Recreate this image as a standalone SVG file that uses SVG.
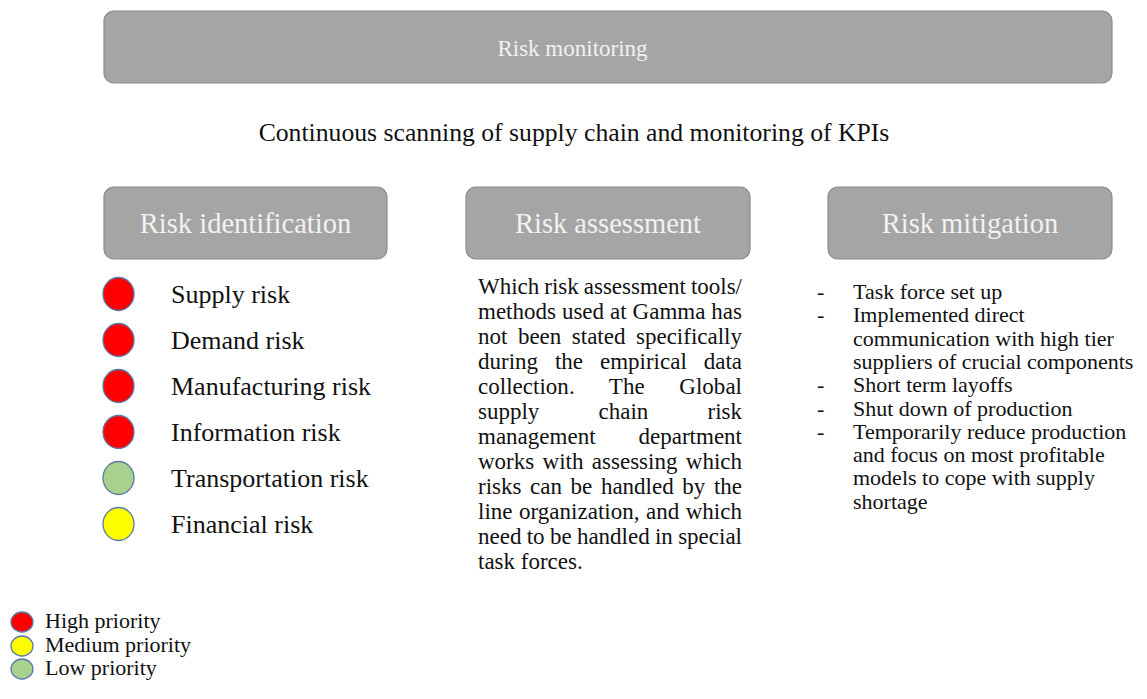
<svg xmlns="http://www.w3.org/2000/svg" width="1147" height="699" viewBox="0 0 1147 699">
  <style>
    .box { fill: #a5a5a5; stroke: #8a8a8a; stroke-width: 1.2; }
    .hdr { font-family: "Liberation Serif", "Times New Roman", serif; fill: #f2f2f2; text-anchor: middle; }
    .body { font-family: "Liberation Serif", "Times New Roman", serif; fill: #111111; }
    .dot { stroke: #5a7aa6; stroke-width: 1.3; }
    .high { fill: #ff0000; }
    .med { fill: #ffff00; }
    .low { fill: #a9d18e; }
  </style>

  <!-- Top banner -->
  <g id="risk-monitoring">
    <rect class="box" x="104" y="11" width="1008" height="72" rx="10"/>
    <text class="hdr" x="572.5" y="56" font-size="23">Risk monitoring</text>
  </g>

  <g id="subtitle">
    <text class="body" x="574" y="141" font-size="25.7" text-anchor="middle">Continuous scanning of supply chain and monitoring of KPIs</text>
  </g>

  <!-- Column 1: identification -->
  <g id="risk-identification">
    <rect class="box" x="104" y="187" width="283" height="72" rx="10"/>
    <text class="hdr" x="245.5" y="233" font-size="28.5">Risk identification</text>
    <g font-size="26" class="body">
      <ellipse class="dot high" cx="118.5" cy="294" rx="15.5" ry="16.5"/>
      <text x="171" y="303">Supply risk</text>
      <ellipse class="dot high" cx="118.5" cy="340" rx="15.5" ry="16.5"/>
      <text x="171" y="349">Demand risk</text>
      <ellipse class="dot high" cx="118.5" cy="386" rx="15.5" ry="16.5"/>
      <text x="171" y="395">Manufacturing risk</text>
      <ellipse class="dot high" cx="118.5" cy="432" rx="15.5" ry="16.5"/>
      <text x="171" y="441">Information risk</text>
      <ellipse class="dot low" cx="118.5" cy="478" rx="15.5" ry="16.5"/>
      <text x="171" y="487">Transportation risk</text>
      <ellipse class="dot med" cx="118.5" cy="524" rx="15.5" ry="16.5"/>
      <text x="171" y="533">Financial risk</text>
    </g>
  </g>

  <!-- Column 2: assessment (justified paragraph) -->
  <g id="risk-assessment">
    <rect class="box" x="466" y="187" width="284" height="72" rx="10"/>
    <text class="hdr" x="608" y="233" font-size="28.5">Risk assessment</text>
    <g class="body" font-size="23">
      <text x="478" y="294" textLength="264" lengthAdjust="spacing" style="word-spacing:-0.8px">Which risk assessment tools/</text>
      <text x="478" y="319" textLength="264" lengthAdjust="spacing" style="word-spacing:0.2px">methods used at Gamma has</text>
      <text x="478" y="344" textLength="264" lengthAdjust="spacing" style="word-spacing:4.75px">not been stated specifically</text>
      <text x="478" y="369" textLength="264" lengthAdjust="spacing" style="word-spacing:11.15px">during the empirical data</text>
      <text x="478" y="394" textLength="264" lengthAdjust="spacing" style="word-spacing:28.85px">collection. The Global</text>
      <text x="478" y="419" textLength="264" lengthAdjust="spacing" style="word-spacing:53.4px">supply chain risk</text>
      <text x="478" y="444" textLength="264" lengthAdjust="spacing" style="word-spacing:37.25px">management department</text>
      <text x="478" y="469" textLength="264" lengthAdjust="spacing" style="word-spacing:2.6px">works with assessing which</text>
      <text x="478" y="494" textLength="264" lengthAdjust="spacing" style="word-spacing:2.85px">risks can be handled by the</text>
      <text x="478" y="519" textLength="264" lengthAdjust="spacing" style="word-spacing:0.7px">line organization, and which</text>
      <text x="478" y="544" textLength="264" lengthAdjust="spacing" style="word-spacing:-0.45px">need to be handled in special</text>
      <text x="478" y="569">task forces.</text>
    </g>
  </g>

  <!-- Column 3: mitigation -->
  <g id="risk-mitigation">
    <rect class="box" x="828" y="187" width="284" height="72" rx="10"/>
    <text class="hdr" x="970" y="233" font-size="28.5">Risk mitigation</text>
    <g class="body" font-size="22">
      <text x="817" y="299">-</text>
      <text x="853" y="299">Task force set up</text>
      <text x="817" y="322.3">-</text>
      <text x="853" y="322.3">Implemented direct</text>
      <text x="853" y="345.6">communication with high tier</text>
      <text x="853" y="368.9">suppliers of crucial components</text>
      <text x="817" y="392.2">-</text>
      <text x="853" y="392.2">Short term layoffs</text>
      <text x="817" y="415.5">-</text>
      <text x="853" y="415.5">Shut down of production</text>
      <text x="817" y="438.8">-</text>
      <text x="853" y="438.8">Temporarily reduce production</text>
      <text x="853" y="462.1">and focus on most profitable</text>
      <text x="853" y="485.4">models to cope with supply</text>
      <text x="853" y="508.7">shortage</text>
    </g>
  </g>

  <!-- Priority key -->
  <g id="legend" class="body" font-size="22">
    <ellipse class="dot high" cx="22" cy="622" rx="11" ry="10"/>
    <text x="45" y="628">High priority</text>
    <ellipse class="dot med" cx="22" cy="646" rx="11" ry="10"/>
    <text x="45" y="652">Medium priority</text>
    <ellipse class="dot low" cx="22" cy="669" rx="11" ry="10"/>
    <text x="45" y="675">Low priority</text>
  </g>
</svg>
